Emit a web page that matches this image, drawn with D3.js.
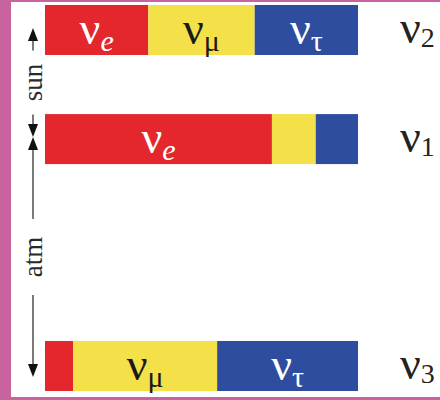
<!DOCTYPE html>
<html>
<head>
<meta charset="utf-8">
<script src="https://cdn.jsdelivr.net/npm/d3@7"></script>
<style>
  html, body { margin: 0; padding: 0; background: #fff; }
  svg { display: block; }
</style>
</head>
<body>
<script>
// Mass eigenstates, top to bottom, with their relative mass-squared level
const states = ["2", "1", "3"];
const levels = [1, 0, -2.08];

// Flavour composition of each mass eigenstate (fractions of e, μ, τ)
const flavours = ["e", "μ", "τ"];
const eShare   = [0.33, 0.725, 0.09];
const muShare  = [0.34, 0.14, 0.46];
const tauShare = [0.33, 0.135, 0.45];

// Which segments carry a flavour label, per state
const labelled = [[true, true, true], [true, false, false], [false, true, true]];

// Splittings shown on the left: name, from state index, to state index
const splitNames = ["sun", "atm"];
const splitFrom  = [0, 1];
const splitTo    = [1, 2];

const W = 440, H = 400;
const colours = { e: "#e3272c", "μ": "#f4e14a", "τ": "#2e4d9f" };
const textOn  = { e: "#ffffff", "μ": "#1a1a1a", "τ": "#ffffff" };
const serif = "'Liberation Serif', 'DejaVu Serif', serif";

const svg = d3.select("body").append("svg")
  .attr("width", W).attr("height", H);

svg.append("rect").attr("width", W).attr("height", H).attr("fill", "#fff");

// Frame
const frame = "#c8639f";
svg.append("rect").attr("x", 0).attr("y", 0).attr("width", 11).attr("height", H).attr("fill", frame);
svg.append("rect").attr("x", 0).attr("y", 0).attr("width", W).attr("height", 2).attr("fill", frame);
svg.append("rect").attr("x", 0).attr("y", 397).attr("width", W).attr("height", 3).attr("fill", frame);

const x = d3.scaleLinear().domain([0, 1]).range([45, 358]);
const y = d3.scaleLinear().domain([levels[0], levels[2]]).range([30, 366]);
const barH = 50;

const rows = states.map((s, i) => {
  const shares = [eShare[i], muShare[i], tauShare[i]];
  const stack = [];
  let acc = 0;
  shares.forEach((v, j) => {
    stack.push({ flav: flavours[j], x0: acc, x1: acc + v, show: labelled[i][j] });
    acc += v;
  });
  return { state: s, level: levels[i], stack };
});

const g = svg.append("g");

rows.forEach(row => {
  const cy = y(row.level);
  const rg = g.append("g");
  rg.selectAll("rect").data(row.stack).join("rect")
    .attr("x", d => x(d.x0))
    .attr("width", d => x(d.x1) - x(d.x0))
    .attr("y", cy - barH / 2)
    .attr("height", barH)
    .attr("fill", d => colours[d.flav]);

  const lab = rg.selectAll("text").data(row.stack.filter(d => d.show)).join("text")
    .attr("x", d => (x(d.x0) + x(d.x1)) / 2)
    .attr("y", cy + 14)
    .attr("text-anchor", "middle")
    .attr("font-family", serif)
    .attr("font-size", 46)
    .attr("fill", d => textOn[d.flav]);
  lab.append("tspan").text("ν");
  lab.append("tspan")
    .attr("font-size", 30)
    .attr("dy", 7)
    .attr("font-style", d => d.flav === "e" ? "italic" : "normal")
    .text(d => d.flav);

  // State name on the right
  const t = svg.append("text")
    .attr("x", 400)
    .attr("y", cy + 13)
    .attr("font-family", serif)
    .attr("font-size", 46)
    .attr("fill", "#222");
  t.append("tspan").text("ν");
  t.append("tspan").attr("font-size", 28).attr("dy", 4).text(row.state);
});

// Splitting arrows on the left
const ax = 33, headLen = 13, headW = 5;
splitNames.forEach((name, k) => {
  const yA = y(levels[splitFrom[k]]) - 2;
  const yB = y(levels[splitTo[k]]) + (k === 1 ? 11 : -2);
  const mid = (yA + yB) / 2;
  const gap = k === 0 ? 32 : 38;
  const ag = svg.append("g");
  ag.append("line").attr("x1", ax).attr("x2", ax)
    .attr("y1", yA + headLen - 1).attr("y2", mid - gap)
    .attr("stroke", "#7a7a7a").attr("stroke-width", 2);
  ag.append("line").attr("x1", ax).attr("x2", ax)
    .attr("y1", mid + gap).attr("y2", yB - headLen + 1)
    .attr("stroke", "#7a7a7a").attr("stroke-width", 2);
  ag.append("path")
    .attr("d", `M${ax},${yA} L${ax - headW},${yA + headLen} L${ax + headW},${yA + headLen} Z`)
    .attr("fill", "#111");
  ag.append("path")
    .attr("d", `M${ax},${yB} L${ax - headW},${yB - headLen} L${ax + headW},${yB - headLen} Z`)
    .attr("fill", "#111");
  ag.append("text")
    .attr("transform", `translate(${ax + 9},${mid}) rotate(-90)`)
    .attr("text-anchor", "middle")
    .attr("font-family", serif)
    .attr("font-size", 27)
    .attr("fill", "#2a2a2a")
    .text(name);
});
</script>
</body>
</html>
